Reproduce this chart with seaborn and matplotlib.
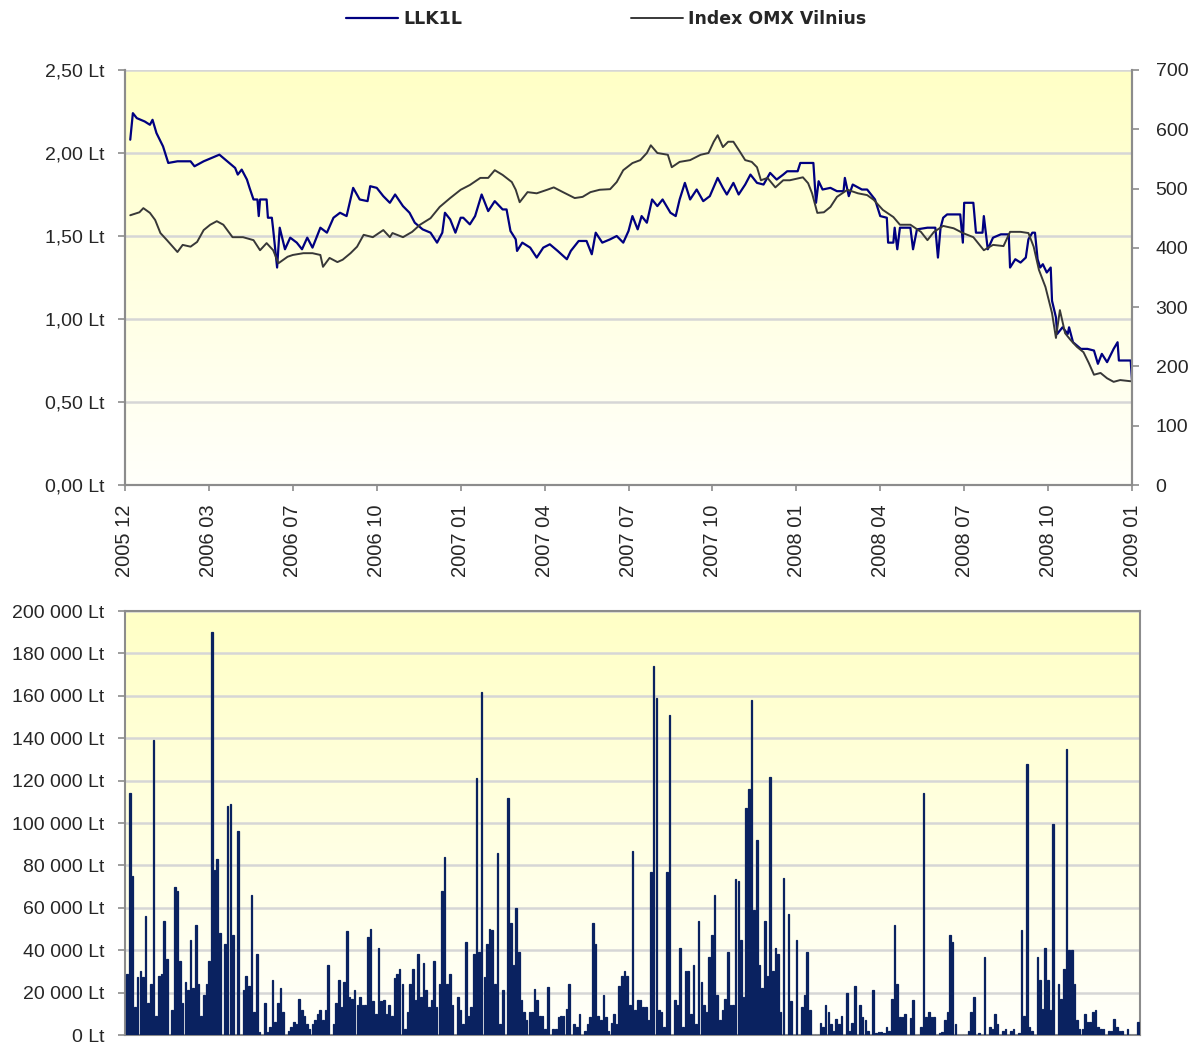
import numpy as np
import pandas as pd
import matplotlib
matplotlib.use("Agg")
import matplotlib.pyplot as plt
import seaborn as sns
from matplotlib.colors import LinearSegmentedColormap
from matplotlib.lines import Line2D

# LLK1L price (Lt) by trading day
llk_day = [4, 6, 9, 15, 19, 21, 24, 29, 33, 40, 50, 53, 60, 72, 78, 84, 86, 89, 93, 95,
           98, 101, 102, 103, 108, 109, 112, 113, 116, 118, 122, 126, 131, 135, 139, 143,
           149, 154, 159, 164, 169, 174, 179, 185, 187, 192, 197, 202, 206, 212, 217, 221,
           227, 233, 238, 242, 244, 248, 252, 256, 258, 263, 267, 272, 277, 282, 288, 291,
           294, 298, 299, 303, 309, 314, 319, 324, 330, 337, 340, 346, 352, 356, 359, 364,
           370, 375, 380, 384, 387, 391, 394, 398, 402, 406, 410, 416, 420, 423, 427, 431,
           436, 441, 446, 452, 456, 459, 464, 468, 473, 477, 482, 487, 492, 497, 502, 505,
           513, 515, 525, 527, 529, 532, 538, 543, 548, 549, 552, 555, 562, 566, 572, 576,
           581, 582, 586, 587, 589, 591, 599, 601, 604, 612, 618, 620, 622, 624, 627, 637,
           639, 640, 647, 649, 654, 655, 658, 662, 668, 674, 675, 679, 683, 687, 689, 692,
           694, 696, 698, 700, 703, 706, 707, 710, 711, 715, 719, 720, 723, 729, 734, 739,
           742, 745, 749, 754, 757, 758, 767, 768]
llk_price = [2.08, 2.24, 2.21, 2.19, 2.17, 2.20, 2.12, 2.04, 1.94, 1.95, 1.95, 1.92, 1.95,
             1.99, 1.95, 1.91, 1.87, 1.90, 1.84, 1.79, 1.72, 1.72, 1.62, 1.72, 1.72, 1.61,
             1.61, 1.54, 1.31, 1.55, 1.42, 1.49, 1.46, 1.42, 1.49, 1.43, 1.55, 1.52, 1.61,
             1.64, 1.62, 1.79, 1.72, 1.71, 1.80, 1.79, 1.74, 1.70, 1.75, 1.68, 1.64, 1.58,
             1.54, 1.52, 1.46, 1.52, 1.64, 1.60, 1.52, 1.61, 1.61, 1.57, 1.62, 1.75, 1.65,
             1.71, 1.66, 1.66, 1.53, 1.48, 1.41, 1.46, 1.43, 1.37, 1.43, 1.45, 1.41, 1.36,
             1.41, 1.47, 1.47, 1.39, 1.52, 1.46, 1.48, 1.50, 1.46, 1.53, 1.62, 1.54, 1.62,
             1.58, 1.72, 1.68, 1.72, 1.64, 1.62, 1.72, 1.82, 1.72, 1.78, 1.71, 1.74, 1.85,
             1.79, 1.75, 1.82, 1.75, 1.81, 1.87, 1.82, 1.81, 1.88, 1.84, 1.87, 1.89, 1.89,
             1.94, 1.94, 1.70, 1.83, 1.78, 1.79, 1.77, 1.77, 1.85, 1.74, 1.81, 1.78, 1.78,
             1.72, 1.62, 1.61, 1.46, 1.46, 1.55, 1.42, 1.55, 1.55, 1.42, 1.54, 1.55, 1.55,
             1.37, 1.55, 1.61, 1.63, 1.63, 1.46, 1.70, 1.70, 1.52, 1.52, 1.62, 1.42, 1.49,
             1.51, 1.51, 1.31, 1.36, 1.34, 1.37, 1.48, 1.52, 1.52, 1.36, 1.31, 1.33, 1.28,
             1.31, 1.11, 1.01, 0.91, 0.95, 0.91, 0.95, 0.86, 0.82, 0.82, 0.81, 0.73, 0.79,
             0.74, 0.82, 0.86, 0.75, 0.75, 0.63]

# OMX Vilnius index by trading day
omx_day = [4, 11, 14, 19, 23, 27, 32, 40, 44, 50, 55, 60, 65, 70, 75, 82, 90, 98, 103, 108,
           113, 117, 124, 128, 136, 143, 149, 151, 156, 162, 166, 172, 177, 182, 189, 197,
           202, 204, 212, 219, 225, 233, 240, 248, 256, 263, 271, 277, 282, 288, 295, 298,
           301, 307, 314, 322, 327, 334, 343, 349, 355, 362, 370, 375, 380, 387, 393, 398,
           401, 406, 414, 417, 423, 431, 439, 445, 449, 452, 456, 460, 464, 469, 473, 478,
           482, 485, 490, 496, 502, 507, 517, 521, 524, 528, 533, 538, 543, 551, 559, 566,
           571, 578, 586, 591, 599, 607, 612, 617, 624, 632, 639, 647, 655, 662, 670, 675,
           683, 689, 693, 697, 702, 707, 710, 713, 717, 721, 726, 731, 735, 739, 744, 749,
           754, 759, 767]
omx_index = [455, 460, 467, 459, 447, 425, 413, 393, 405, 402, 410, 430, 439, 445, 439, 418,
             418, 413, 396, 408, 396, 374, 385, 388, 391, 391, 388, 368, 383, 376, 380, 391,
             402, 422, 418, 430, 418, 425, 418, 427, 439, 450, 469, 484, 498, 506, 518, 518,
             531, 523, 511, 498, 477, 494, 492, 498, 502, 494, 484, 486, 494, 498, 499, 511,
             531, 543, 548, 560, 573, 560, 557, 536, 545, 548, 557, 560, 579, 590, 570, 579,
             579, 562, 548, 545, 536, 514, 518, 502, 514, 514, 519, 509, 492, 459, 460, 469,
             486, 498, 492, 489, 481, 464, 452, 439, 439, 427, 413, 427, 437, 433, 425, 418,
             396, 405, 403, 427, 427, 425, 402, 363, 334, 290, 248, 295, 256, 245, 233, 224,
             206, 186, 189, 180, 174, 177, 175]

# daily turnover, thousands of Lt
turnover = [29, 114, 75, 13, 27.5, 30, 27.5, 56, 15, 24, 139, 9, 28, 29, 54, 36, 0, 12, 70,
            68, 35, 15, 25, 21, 45, 22, 52, 24, 9, 19, 24, 35, 190, 78, 83, 48, 0, 43, 108,
            109, 47, 0, 96, 0, 21, 28, 23, 66, 11, 38, 1.5, 0, 15, 1.5, 4, 26, 6, 15, 22, 11,
            0, 2, 4, 6, 5, 17, 12, 9, 5, 3, 5, 7, 10, 12, 7, 12, 33, 0, 5, 15, 26, 13, 25, 49,
            18, 17, 21, 14, 18, 14, 14, 46, 50, 16, 10,
            41, 16, 16.5, 10, 14, 9, 27, 29, 31, 24, 3, 11, 24, 31, 16.5, 38, 18, 34, 21, 13,
            16.5, 35, 13, 24, 68, 84, 24, 29, 14, 0, 18, 12, 5, 44, 9, 13, 38, 121, 39, 162,
            27.5, 43, 50, 49.5, 24, 86, 5, 21, 0, 112, 53, 33, 60, 39, 16.5, 11, 7, 11, 11,
            21.5, 16.5, 9, 9, 3, 22.5, 0, 3, 3, 8.5, 9, 9, 12.5, 24, 0, 5, 4, 10, 0, 2,
            5, 8.5, 53, 43, 9, 7, 19, 8.5, 2, 5.5, 10, 5, 23, 28, 30, 28,
            14, 87, 12, 16.5, 16.5, 13, 13, 7, 77, 174, 159, 12, 11, 4, 77, 151, 0, 16.5,
            14, 41, 4, 30, 30, 10, 33, 5, 54, 25, 14, 11, 37, 47, 66, 19, 7, 12,
            17, 39, 14, 14, 73.5, 72.5, 45, 18, 107, 116, 158, 59, 92, 33, 22, 54, 28,
            121.5, 30, 41, 38, 11, 74, 0, 57, 16, 0, 45, 0, 13, 19, 39, 12, 0, 0, 0, 5.5, 4,
            14, 11, 5, 2, 7.5, 5, 9, 0, 20, 2, 5.5, 23, 0, 14, 8.5, 7, 2, 0, 21, 1, 1.5,
            1.5, 1, 4, 2, 17, 52, 24, 8.5, 8.5, 10, 0, 8, 16.5, 0, 0, 4, 114, 8.5, 11, 8.5,
            8.5, 0, 1, 1.5, 7, 11, 47, 44, 5, 0, 0, 0, 0, 2, 11, 18, 0, 1, 0, 37, 0, 4, 3, 10,
            5, 0, 2, 3, 0, 2, 3, 0, 1, 49.5, 9, 128, 4, 2, 0, 37, 26, 12.5, 41, 26, 12, 99.5,
            0, 24, 17, 31, 135, 40, 40, 24, 7, 3, 3, 10, 6, 6, 11, 12, 4, 3, 3, 0, 2, 2, 7.5,
            4, 2, 2, 0, 3, 0, 0, 0, 6]

date_labels = ["2005 12", "2006 03", "2006 07", "2006 10", "2007 01", "2007 04", "2007 07",
               "2007 10", "2008 01", "2008 04", "2008 07", "2008 10", "2009 01"]
label_step = 64
n_days = 768

sns.set_style("white")
plt.rcParams["font.family"] = ["Liberation Sans", "DejaVu Sans"]

navy = "#000080"
dark_gray = "#383838"
bar_color = "#0a2260"
spine_gray = "#8c8c8c"
grid_gray = "#d6d6d6"
bg_cmap = LinearSegmentedColormap.from_list("bg", ["#fffffb", "#ffffc6"])
grad = np.linspace(0, 1, 256).reshape(-1, 1)

fig = plt.figure(figsize=(11.91, 10.44), dpi=100)
ax = fig.add_axes([125 / 1191, 1 - 485 / 1044, (1132 - 125) / 1191, (485 - 70) / 1044])
ax2 = fig.add_axes([125 / 1191, 1 - 1035 / 1044, (1140 - 125) / 1191, (1035 - 611) / 1044])


def paint_bg(a):
    a.imshow(grad, extent=[0, 1, 0, 1], transform=a.transAxes, aspect="auto",
             cmap=bg_cmap, origin="lower", zorder=0, interpolation="bilinear")


# top chart: price and index
paint_bg(ax)
llk = pd.DataFrame({"day": llk_day, "price": llk_price})
omx = pd.DataFrame({"day": omx_day, "index": omx_index})
sns.lineplot(data=llk, x="day", y="price", ax=ax, color=navy, linewidth=1.6, zorder=3)
ax.set_xlim(0, n_days)
ax.set_ylim(0, 2.5)
ax.set_yticks(np.arange(0, 2.51, 0.5))
ax.set_yticklabels([f"{v:.2f}".replace(".", ",") + " Lt" for v in np.arange(0, 2.51, 0.5)])
ax.set_xticks(np.arange(0, n_days + 1, label_step))
ax.set_xticklabels(date_labels, rotation=90)
ax.set_xlabel("")
ax.set_ylabel("")
ax.grid(axis="y", color=grid_gray, linewidth=1.8, zorder=1)
ax.set_axisbelow(True)

axr = ax.twinx()
sns.lineplot(data=omx, x="day", y="index", ax=axr, color=dark_gray, linewidth=1.4)
axr.set_ylim(0, 700)
axr.set_yticks(np.arange(0, 701, 100))
axr.set_ylabel("")
axr.set_xlim(0, n_days)

for a in (ax, axr):
    for s in a.spines.values():
        s.set_color(spine_gray)
        s.set_linewidth(1.5)
    a.spines["top"].set_visible(False)
ax.tick_params(axis="y", direction="out", length=5, width=1.2, color=spine_gray,
               pad=10, labelsize=14, left=True)
ax.tick_params(axis="x", direction="out", length=4, width=1.2, color=spine_gray,
               pad=10, labelsize=14.5, bottom=True)
axr.tick_params(axis="y", direction="out", length=5, width=1.2, color=spine_gray,
                pad=12, labelsize=14, right=True)

# legend
handles = [Line2D([], [], color=navy, linewidth=1.6), Line2D([], [], color=dark_gray, linewidth=1.4)]
fig.legend(handles, ["LLK1L", "Index OMX Vilnius"], loc="center", bbox_to_anchor=(0.509, 0.982),
           ncol=2, frameon=False, handlelength=3.0, handletextpad=0.3, columnspacing=9.7,
           prop={"family": "DejaVu Sans", "weight": "bold", "size": 12.5})

# bottom chart: turnover
paint_bg(ax2)
vol = pd.DataFrame({"n": np.arange(len(turnover)), "value": np.array(turnover) * 1000})
sns.barplot(data=vol, x="n", y="value", ax=ax2, color=bar_color, saturation=1, width=0.6,
            linewidth=0.9, edgecolor=bar_color, zorder=3)
ax2.set_xlim(-0.8, len(turnover) - 0.2)
ax2.set_ylim(0, 200000)
yt = np.arange(0, 200001, 20000)
ax2.set_yticks(yt)
ax2.set_yticklabels([f"{v:,.0f}".replace(",", " ") + " Lt" for v in yt])
ax2.set_xticks([])
ax2.set_xlabel("")
ax2.set_ylabel("")
ax2.grid(axis="y", color=grid_gray, linewidth=1.8, zorder=1)
ax2.set_axisbelow(True)
for s in ax2.spines.values():
    s.set_color(spine_gray)
    s.set_linewidth(1.5)
ax2.tick_params(axis="y", direction="out", length=5, width=1.2, color=spine_gray,
                pad=10, labelsize=14, left=True)

fig.savefig("out.png", dpi=100)
